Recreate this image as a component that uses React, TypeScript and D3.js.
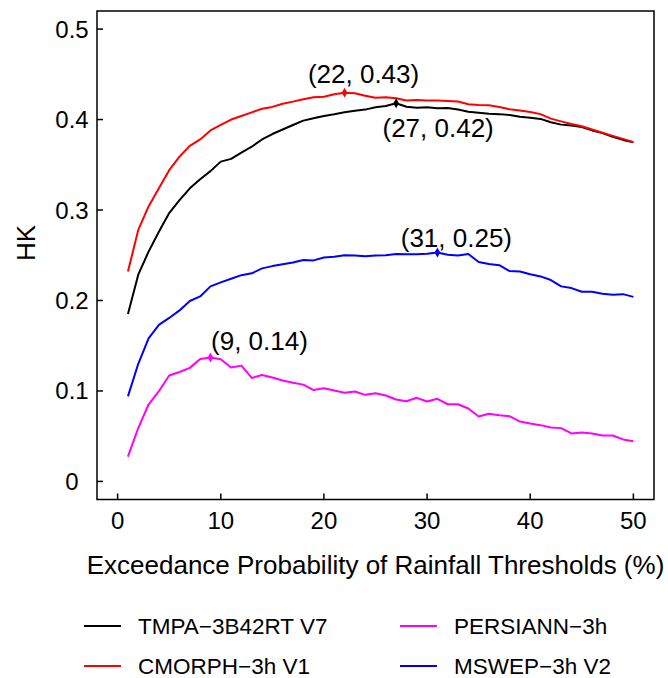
import React from "react";
import * as d3 from "d3";

const thresholds = d3.range(1, 51);

const tmpa = [
  0.185, 0.2285, 0.254, 0.276, 0.2966, 0.311, 0.324, 0.334, 0.343, 0.3535,
  0.3565, 0.3635, 0.37, 0.378, 0.384, 0.389, 0.394, 0.3988, 0.4014, 0.404,
  0.4058, 0.408, 0.4098, 0.411, 0.4136, 0.415, 0.418, 0.4142, 0.413, 0.4136,
  0.4125, 0.4128, 0.4112, 0.4087, 0.4076, 0.4065, 0.406, 0.405, 0.403, 0.402,
  0.4007, 0.397, 0.3944, 0.3933, 0.3918, 0.388, 0.385, 0.381, 0.3775, 0.375,
];
const cmorph = [
  0.232, 0.278, 0.304, 0.324, 0.344, 0.359, 0.371, 0.378, 0.388, 0.394,
  0.4, 0.404, 0.408, 0.412, 0.414, 0.4175, 0.4198, 0.4224, 0.4246, 0.4253,
  0.428, 0.4297, 0.429, 0.4264, 0.424, 0.4246, 0.4235, 0.421, 0.4216, 0.421,
  0.421, 0.4206, 0.42, 0.4169, 0.416, 0.4157, 0.4139, 0.4113, 0.41, 0.4084,
  0.406, 0.401, 0.398, 0.395, 0.3926, 0.389, 0.3855, 0.382, 0.3786, 0.375,
];
const persiann = [
  0.0273, 0.059, 0.085, 0.0997, 0.117, 0.121, 0.1255, 0.1354, 0.137, 0.135,
  0.126, 0.128, 0.1144, 0.1177, 0.1148, 0.1115, 0.109, 0.107, 0.101, 0.103,
  0.1004, 0.098, 0.0993, 0.0957, 0.0975, 0.095, 0.0905, 0.0886, 0.0924, 0.0883,
  0.0913, 0.0853, 0.0853, 0.0806, 0.0717, 0.0747, 0.0732, 0.0721, 0.0662, 0.064,
  0.0622, 0.0596, 0.0589, 0.053, 0.054, 0.053, 0.0508, 0.0508, 0.0464, 0.0445,
];
const mswep = [
  0.094, 0.13, 0.158, 0.173, 0.1807, 0.189, 0.1994, 0.2045, 0.2156, 0.22,
  0.224, 0.228, 0.23, 0.2355, 0.238, 0.24, 0.242, 0.2447, 0.2443, 0.2476,
  0.2483, 0.25, 0.2498, 0.249, 0.2498, 0.25, 0.2513, 0.251, 0.251, 0.2517,
  0.253, 0.2506, 0.2498, 0.2513, 0.2425, 0.2403, 0.239, 0.2325, 0.232, 0.229,
  0.2266, 0.2226, 0.2156, 0.2137, 0.2097, 0.2097, 0.2075, 0.2064, 0.207, 0.204,
];

const seriesNames = ["TMPA\u22123B42RT V7", "CMORPH\u22123h V1", "PERSIANN\u22123h", "MSWEP\u22123h V2"];
const seriesValues = [tmpa, cmorph, persiann, mswep];
const seriesColors = ["#000000", "#ff0000", "#ff00ff", "#0000ff"];
const peakLabels = ["(27, 0.42)", "(22, 0.43)", "(9, 0.14)", "(31, 0.25)"];

const xTicks = [0, 10, 20, 30, 40, 50];
const yTicks = [0, 0.1, 0.2, 0.3, 0.4, 0.5];
const yTickLabels = ["0", "0.1", "0.2", "0.3", "0.4", "0.5"];
const xTitle = "Exceedance Probability of Rainfall Thresholds (%)";
const yTitle = "HK";

// layout (pixel offsets of peak labels relative to their marker)
const labelOffsets = [
  [42, 25],
  [19, -19],
  [49, -16],
  [19, -15],
];
const legendPos = [
  [84, 626],
  [84, 666],
  [400, 626],
  [400, 666],
];
const legendOrder = [0, 1, 2, 3];

const FONT = "'Liberation Sans', Arial, Helvetica, sans-serif";

export default function App() {
  const W = 668;
  const H = 678;
  const left = 97, right = 654, top = 11, bottom = 499.5;
  const x = d3.scaleLinear().domain([-2, 52]).range([left, right]);
  const y = d3.scaleLinear().domain([-0.02, 0.52]).range([bottom, top]);
  const line = d3
    .line<number>()
    .x((_, i) => x(thresholds[i]))
    .y((d) => y(d));
  const diamond = d3.symbol().type(d3.symbolDiamond).size(28)();

  const legendItems = [
    { idx: 0, pos: legendPos[0] },
    { idx: 1, pos: legendPos[1] },
    { idx: 2, pos: legendPos[2] },
    { idx: 3, pos: legendPos[3] },
  ];

  return (
    <svg
      width={W}
      height={H}
      style={{ position: "absolute", left: 0, top: 0, background: "#fff" }}
      fontFamily={FONT}
    >
      <rect x={0} y={0} width={W} height={H} fill="#fff" />
      {/* series lines */}
      {seriesValues.map((vals, s) => (
        <path
          key={s}
          d={line(vals) || ""}
          fill="none"
          stroke={seriesColors[s]}
          strokeWidth={2}
          strokeLinejoin="round"
        />
      ))}
      {/* peak markers and labels */}
      {seriesValues.map((vals, s) => {
        const i = d3.maxIndex(vals);
        const px = x(thresholds[i]);
        const py = y(vals[i]);
        return (
          <g key={"pk" + s}>
            <path d={diamond || ""} transform={`translate(${px},${py})`} fill={seriesColors[s]} />
            <text
              x={px + labelOffsets[s][0]}
              y={py + labelOffsets[s][1]}
              textAnchor="middle"
              dominantBaseline="central"
              fontSize={26}
              fill="#000"
            >
              {peakLabels[s]}
            </text>
          </g>
        );
      })}
      {/* frame */}
      <rect x={left} y={top} width={right - left} height={bottom - top} fill="none" stroke="#000" strokeWidth={1.5} />
      {/* x ticks */}
      {xTicks.map((t) => (
        <g key={"xt" + t}>
          <line x1={x(t)} x2={x(t)} y1={bottom} y2={bottom - 6} stroke="#000" strokeWidth={1.5} />
          <text x={x(t)} y={520} textAnchor="middle" dominantBaseline="central" fontSize={24} fill="#000">
            {t}
          </text>
        </g>
      ))}
      {/* y ticks */}
      {yTicks.map((t, i) => (
        <g key={"yt" + t}>
          <line x1={left} x2={left + 6} y1={y(t)} y2={y(t)} stroke="#000" strokeWidth={1.5} />
          <text x={72} y={y(t)} textAnchor="middle" dominantBaseline="central" fontSize={24} fill="#000">
            {yTickLabels[i]}
          </text>
        </g>
      ))}
      {/* axis titles */}
      <text x={(left + right) / 2} y={565} textAnchor="middle" dominantBaseline="central" fontSize={26} fill="#000">
        {xTitle}
      </text>
      <text
        transform={`translate(26, 243) rotate(-90)`}
        textAnchor="middle"
        dominantBaseline="central"
        fontSize={26}
        fill="#000"
      >
        {yTitle}
      </text>
      {/* legend */}
      {legendItems.map(({ idx, pos }) => (
        <g key={"lg" + idx}>
          <line x1={pos[0]} x2={pos[0] + 37} y1={pos[1]} y2={pos[1]} stroke={seriesColors[idx]} strokeWidth={2} />
          <text x={pos[0] + 54} y={pos[1]} dominantBaseline="central" fontSize={22.5} fill="#000">
            {seriesNames[idx]}
          </text>
        </g>
      ))}
    </svg>
  );
}
